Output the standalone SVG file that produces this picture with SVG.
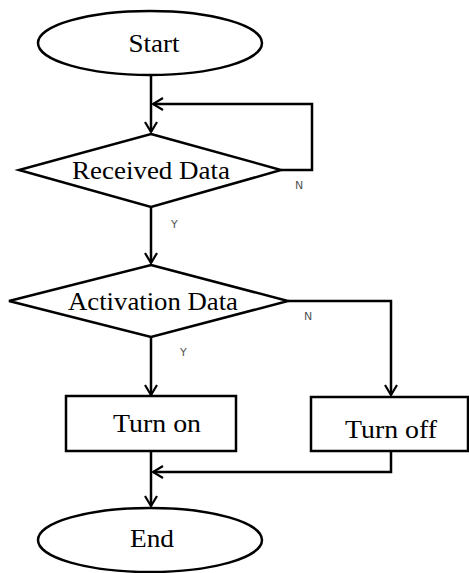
<svg xmlns="http://www.w3.org/2000/svg" width="469" height="573" viewBox="0 0 469 573">
<style>
.s{fill:#fff;stroke:#000;stroke-width:2.5}
.t{font-family:"Liberation Serif","DejaVu Serif",serif;font-size:26px;fill:#000;text-anchor:middle}
.l{font-family:"DejaVu Sans","Liberation Sans",sans-serif;font-size:11px;fill:#555}
.c{fill:none;stroke:#000;stroke-width:2.5}
</style>
<defs>
<marker id="a" markerWidth="14" markerHeight="14" refX="12" refY="7" orient="auto" markerUnits="userSpaceOnUse">
<path d="M2,1 L12,7 L2,13" fill="none" stroke="#000" stroke-width="2.2"/>
</marker>
</defs>
<g id="connectors">
<path class="c" d="M151,76 V132" marker-end="url(#a)"/>
<path class="c" d="M281,170 H312 V104 H153" marker-end="url(#a)"/>
<path class="c" d="M151,207 V263" marker-end="url(#a)"/>
<path class="c" d="M288,301 H391 V395" marker-end="url(#a)"/>
<path class="c" d="M151,337 V395" marker-end="url(#a)"/>
<path class="c" d="M391,451 V472 H153" marker-end="url(#a)"/>
<path class="c" d="M151,451 V506" marker-end="url(#a)"/>
<text class="l" x="295" y="189">N</text>
<text class="l" x="171" y="228">Y</text>
<text class="l" x="304" y="320">N</text>
<text class="l" x="180" y="356">Y</text>
</g>
<g id="start"><ellipse class="s" cx="150" cy="43" rx="112" ry="32"/><text class="t" x="154" y="52" textLength="51" lengthAdjust="spacingAndGlyphs">Start</text></g>
<g id="received"><polygon class="s" points="151,134 281,170 151,207 19,170"/><text class="t" x="151" y="179" textLength="158" lengthAdjust="spacingAndGlyphs">Received Data</text></g>
<g id="activation"><polygon class="s" points="151,265 288,301 151,337 9,301"/><text class="t" x="153" y="310" textLength="170" lengthAdjust="spacingAndGlyphs">Activation Data</text></g>
<g id="turnon"><rect class="s" x="66" y="396" width="170" height="55"/><text class="t" x="157" y="432" textLength="88" lengthAdjust="spacingAndGlyphs">Turn on</text></g>
<g id="turnoff"><rect class="s" x="311" y="397" width="157" height="54"/><text class="t" x="391" y="438" textLength="92" lengthAdjust="spacingAndGlyphs">Turn off</text></g>
<g id="end"><ellipse class="s" cx="150" cy="540" rx="112" ry="32"/><text class="t" x="152" y="547" textLength="44" lengthAdjust="spacingAndGlyphs">End</text></g>
</svg>
